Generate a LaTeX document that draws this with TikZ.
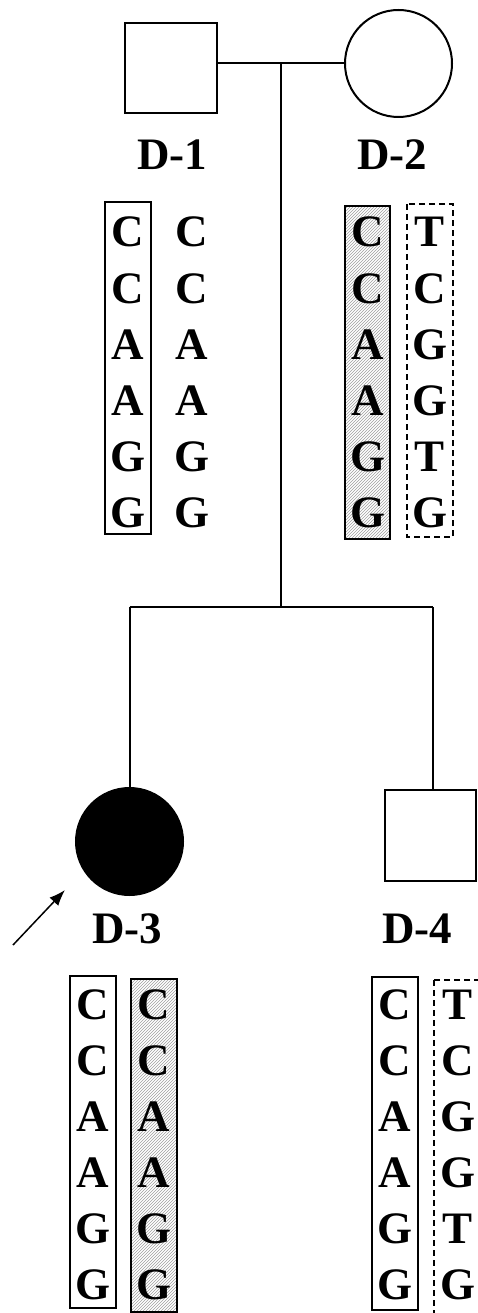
\documentclass[tikz,border=0pt]{standalone}
\usepackage{fontspec}
\setmainfont{Liberation Serif}
\usetikzlibrary{patterns,positioning,arrows.meta}

\begin{document}
\begin{tikzpicture}[x=1pt,y=-1pt,line width=2pt,
    base/.style={font=\fontsize{45}{50}\selectfont\bfseries,anchor=base,inner sep=0pt},
    male/.style={draw,rectangle,minimum width=92pt,minimum height=90pt,inner sep=0pt},
    female/.style={draw,circle,minimum size=107pt,inner sep=0pt},
    plainbox/.style={draw},
    hatchbox/.style={draw,pattern=north east lines,pattern color=gray!75},
    dashbox/.style={draw,dash pattern=on 6pt off 4pt}]
    \useasboundingbox (0,0) rectangle (477,1313);

    % parents
    \node[male] (d1) at (171,68) {};
    \node[female] (d2) at (398.5,63.5) {};
    \draw (d2.west) -- (d2.west -| d1.east);
    \coordinate (mate) at (281,63.5);
    \coordinate (sib) at (281,607);
    \draw (mate) -- (sib);

    % children
    \node[female,fill=black] (d3) at (129.5,841.5) {};
    \node[male,minimum width=91pt,minimum height=91pt] (d4) at (430.5,835.5) {};
    \coordinate (sibL) at (d3.north |- sib);
    \coordinate (sibR) at (433,607);
    \draw (sibL) -- (sibR);
    \draw (sibL) -- (d3.north);
    \draw (sibR) -- (sibR |- d4.north);

    % proband
    \coordinate (ptr) at (13,945);
    \coordinate (ptrtip) at (65,890);
    \draw[-{Latex[length=16pt,width=12pt]},line width=1.5pt] (ptr) -- (ptrtip);

    \node[base] (lab1) at (172,170) {D-1};
    \node[base] (lab2) at (392,170) {D-2};
    \node[base] (lab3) at (127,943) {D-3};
    \node[base] (lab4) at (417,943) {D-4};

    % sequence boxes
    \draw[plainbox] (105,202) rectangle (151,534);
    \draw[hatchbox] (345,206) rectangle (390,539);
    \draw[dashbox] (407,204) rectangle (453,537);
    \draw[plainbox] (70,976) rectangle (116,1308);
    \draw[hatchbox] (131,979) rectangle (177,1312);
    \draw[plainbox] (372,977) rectangle (418,1310);
    \draw[dashbox] (434,980) rectangle (482,1320);

    % sequences
    \foreach \a/\b [count=\i] in {C/T,C/C,A/G,A/G,G/T,G/G} {
        \node[base] (d1a\i) at (128,{247+56*(\i-1)}) {\a};
        \node[base] (d1b\i) at (192,{247+56*(\i-1)}) {\a};
        \node[base] (d2a\i) at (367.5,{247+56*(\i-1)}) {\a};
        \node[base] (d2b\i) at (430,{247+56*(\i-1)}) {\b};
        \node[base] (d3a\i) at (93,{1019+56*(\i-1)}) {\a};
        \node[base] (d3b\i) at (154,{1019+56*(\i-1)}) {\a};
        \node[base] (d4a\i) at (395,{1019+56*(\i-1)}) {\a};
        \node[base] (d4b\i) at (458,{1019+56*(\i-1)}) {\b};
    }
\end{tikzpicture}
\end{document}
